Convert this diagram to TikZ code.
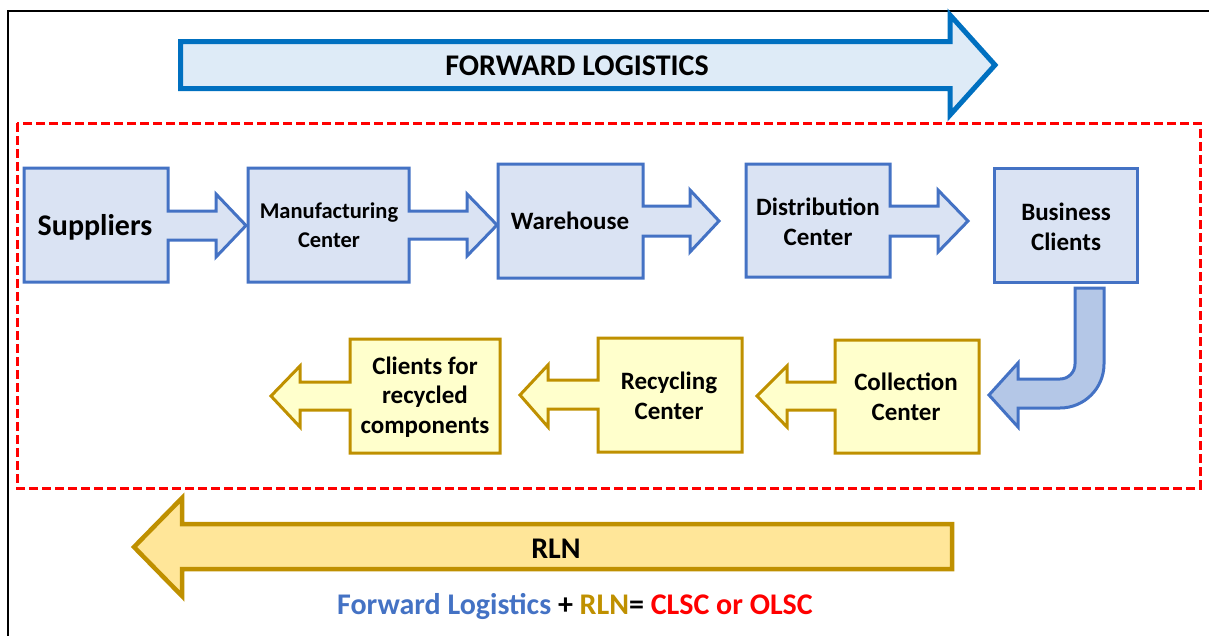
\documentclass[tikz,border=0pt]{standalone}
\usepackage{fontspec}
\setmainfont{Carlito}
\definecolor{fwdline}{HTML}{0070C0}
\definecolor{fwdfill}{HTML}{DEEBF7}
\definecolor{boxline}{HTML}{4472C4}
\definecolor{boxfill}{HTML}{DAE3F3}
\definecolor{turnfill}{HTML}{B4C7E7}
\definecolor{gold}{HTML}{BF9000}
\definecolor{ylwfill}{HTML}{FFFFCC}
\definecolor{rlnfill}{HTML}{FFE699}
\tikzset{
  bluecallout/.style={draw=boxline, fill=boxfill, line width=3pt, line join=miter},
  ylwcallout/.style={draw=gold, fill=ylwfill, line width=3pt, line join=miter},
  lbl/.style={font=\bfseries\fontsize{25}{29.5}\selectfont, align=center, inner sep=0pt, text=black},
}
\begin{document}
\begin{tikzpicture}[x=1pt,y=-1pt]
\useasboundingbox (0,0) rectangle (1209,635);

% outer frame (cut by the page on the right and at the bottom)
\draw[line width=1.5pt] (8,645) -- (8,11) -- (1220,11);

% forward logistics banner arrow
\draw[draw=fwdline, fill=fwdfill, line width=5pt]
  (180.5,41.5) -- (950,41.5) -- (950,15) -- (995,65) -- (950,115)
  -- (950,88.5) -- (180.5,88.5) -- cycle;
\node[font=\bfseries\fontsize{30}{32}\selectfont] (fwd) at (577,66) {FORWARD LOGISTICS};

% dashed frame round the network
\draw[red, line width=3pt, dash pattern=on 9pt off 4pt] (17,123) rectangle (1200,488);

% forward chain: boxes with outgoing arrows
\draw[bluecallout] (24,168) -- (168,168) -- (168,211) -- (216,211) -- (216,194)
  -- (246,225.5) -- (216,257) -- (216,240) -- (168,240) -- (168,282) -- (24,282) -- cycle;
\node[lbl, font=\bfseries\fontsize{30}{32}\selectfont] (sup) at (95,227) {Suppliers};

\draw[bluecallout] (248,168) -- (409,168) -- (409,211) -- (467,211) -- (467,194)
  -- (497,225) -- (467,256) -- (467,239) -- (409,239) -- (409,282) -- (248,282) -- cycle;
\node[lbl, font=\bfseries\fontsize{22.5}{29}\selectfont] (man) at (329,225) {Manufacturing\\Center};

\draw[bluecallout] (498,164) -- (643,164) -- (643,206) -- (690,206) -- (690,190)
  -- (719,221) -- (690,252) -- (690,236) -- (643,236) -- (643,278) -- (498,278) -- cycle;
\node[lbl] (wh) at (570,221) {Warehouse};

\draw[bluecallout] (746,164) -- (890,164) -- (890,206) -- (938,206) -- (938,190)
  -- (968,221) -- (938,252) -- (938,236) -- (890,236) -- (890,277) -- (746,277) -- cycle;
\node[lbl] (dc) at (818,222) {Distribution\\Center};

\draw[bluecallout] (994,168) rectangle (1137,282);
\node[lbl] (bc) at (1066,227) {Business\\Clients};

% U-turn arrow from business clients down to collection
\draw[draw=boxline, fill=turnfill, line width=3pt, line join=miter]
  (1075,288) -- (1104,288) -- (1104,364) arc[start angle=0, end angle=90, radius=44]
  -- (1018,408) -- (1018,427) -- (989,395) -- (1018,363) -- (1018,379)
  -- (1060,379) arc[start angle=90, end angle=0, radius=15] -- cycle;

% reverse chain: boxes with arrows pointing left
\draw[ylwcallout] (979,340) -- (835,340) -- (835,382) -- (787,382) -- (787,366)
  -- (757,396) -- (787,427) -- (787,410) -- (835,410) -- (835,453) -- (979,453) -- cycle;
\node[lbl] (cc) at (906,397) {Collection\\Center};

\draw[ylwcallout] (742,338) -- (598,338) -- (598,380) -- (548,380) -- (548,365)
  -- (520,395) -- (548,427) -- (548,409) -- (598,409) -- (598,452) -- (742,452) -- cycle;
\node[lbl] (rc) at (669,396) {Recycling\\Center};

\draw[ylwcallout] (500,339) -- (350,339) -- (350,382) -- (300,382) -- (300,366)
  -- (271,396) -- (300,427) -- (300,410) -- (350,410) -- (350,453) -- (500,453) -- cycle;
\node[lbl] (cr) at (425,397) {Clients for\\recycled\\components};

% reverse logistics banner arrow
\draw[draw=gold, fill=rlnfill, line width=4.5pt, line join=miter]
  (952,524) -- (182,524) -- (182,498) -- (134,547) -- (182,596) -- (182,569)
  -- (952,569) -- cycle;
\node[font=\bfseries\fontsize{30}{32}\selectfont] (rln) at (556,549) {RLN};

% equation under the picture
\node[font=\bfseries\fontsize{30}{32}\selectfont] (eq) at (575,606)
  {\textcolor{boxline}{Forward Logistics} + \textcolor{gold}{RLN}= \textcolor{red}{CLSC or OLSC}};
\end{tikzpicture}
\end{document}
